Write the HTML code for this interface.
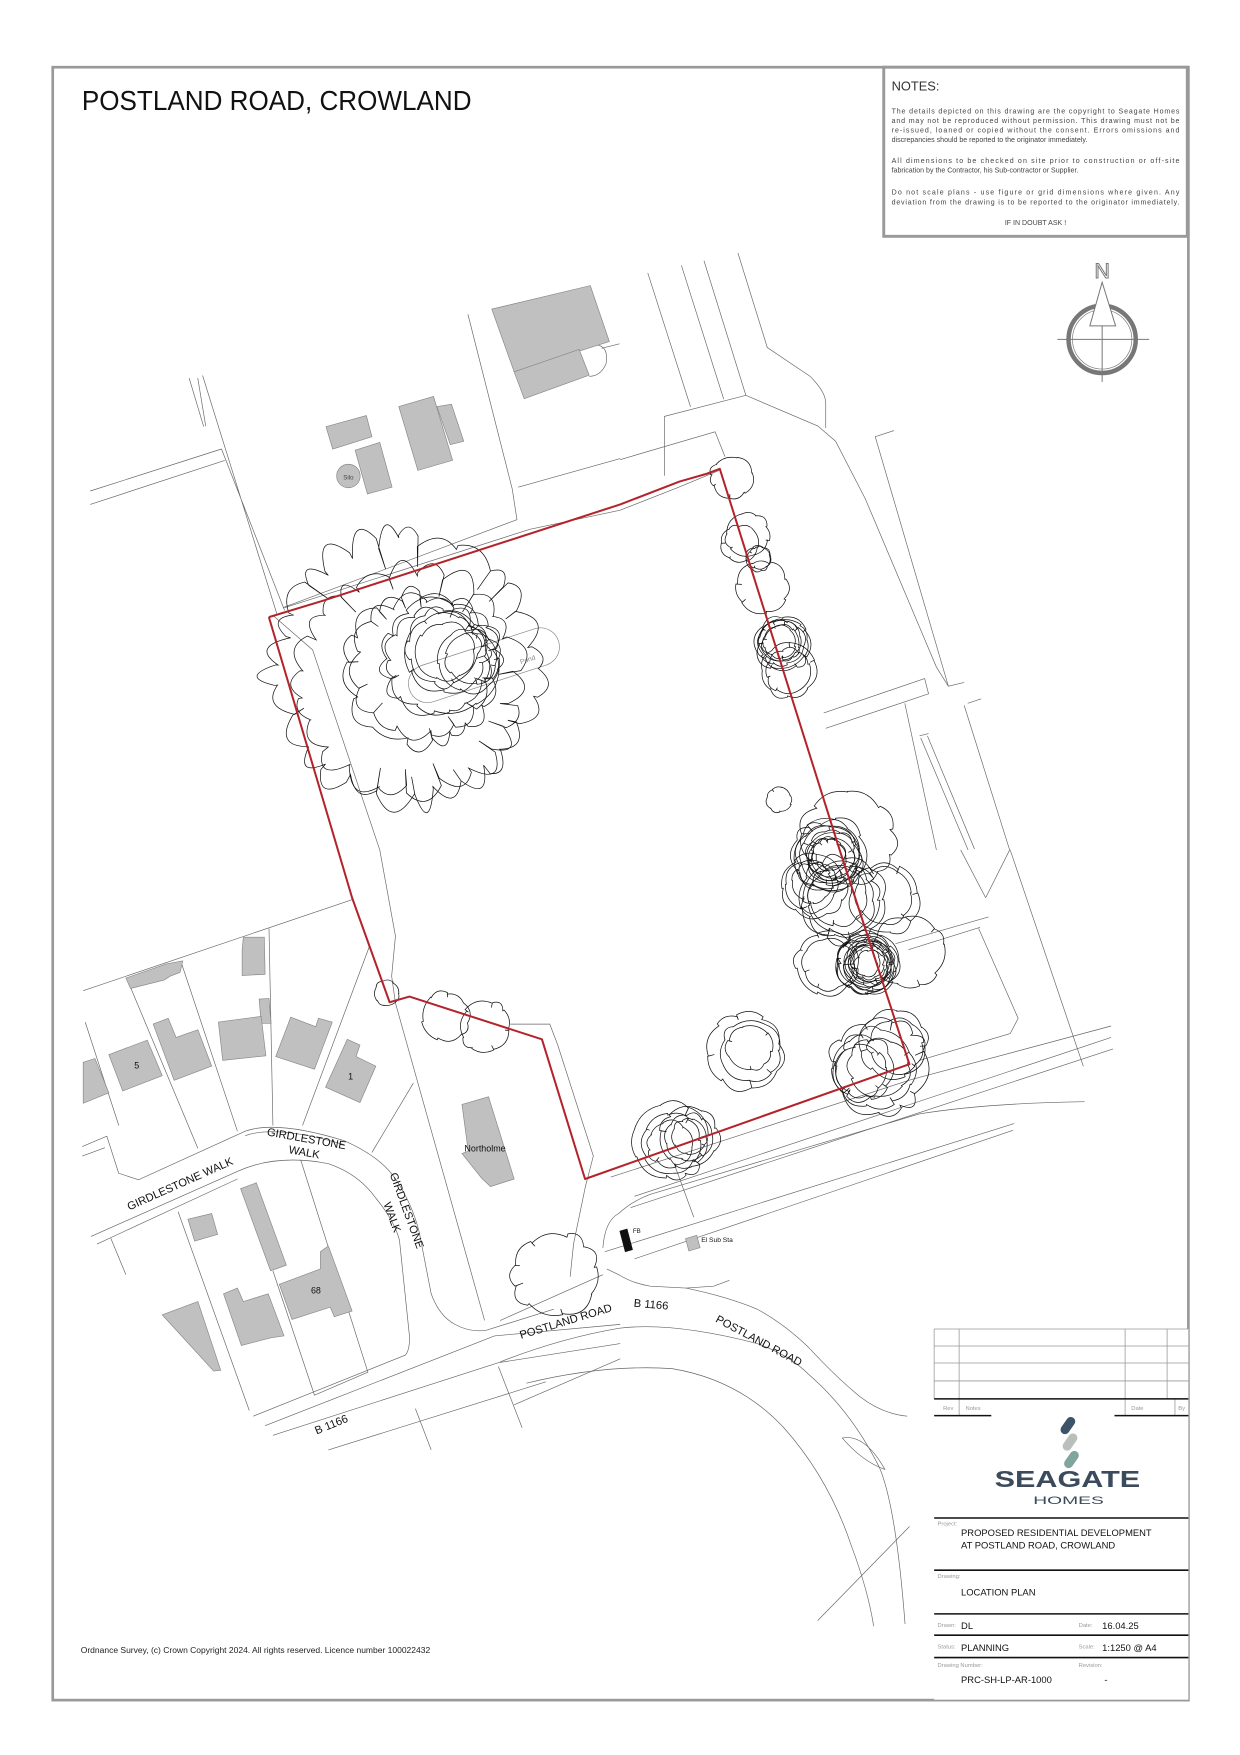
<!DOCTYPE html>
<html><head><meta charset="utf-8"><style>
html,body{margin:0;padding:0;background:#fff;}
svg{display:block;}
text{font-family:"Liberation Sans",sans-serif;}
</style></head><body>
<svg id="s" xmlns="http://www.w3.org/2000/svg" width="1240" height="1755" viewBox="0 0 1107 1567">
<rect x="0" y="0" width="1107" height="1567" fill="#fff"/>
<g id="map" fill="none" stroke="#666" stroke-width="0.6">
<path d="M168.8,337.6 L181.8,381 M176.5,337.6 L183.6,380.4 M180.8,335.3 L247,547.8 M197.7,400.9 L254,545"/>
<path d="M80.5,438.4 L197.7,400.9 M80.5,450.4 L200.6,411.1"/>
<path d="M417.7,280.6 L457.3,436.7 L461.5,464 L252.5,542.6 M462.6,435 L553.7,409.4 M537,311 L553,307"/>
<path d="M243.6,549.5 L279,580.2 L339,758.9 L353,835.8 L349.6,871.6 L353,895.6 L432.6,1179"/>
<path d="M254,542.6 L473,472.6 L553.7,455.5 L606,435 L642,420"/>
<path d="M516,312 Q545,300 541,325 Q536,336 526,336"/>
<path d="M578.3,243.7 L616.5,363.3 M608.3,236.9 L646.1,356.4 M628.5,232.8 L665.9,353 M658.8,225.9 L685,310.3 L723.1,335.9 Q737.2,350 737.2,359.9 L737.2,382.1"/>
<path d="M593.1,424.8 L593.1,371.8 L665.9,353 L730.2,380.4 L746,394 L772.5,445.3 L836,595.6 L846.7,612.7"/>
<path d="M553.6,410.4 L638.4,385.5 L647.2,407.7"/>
<path d="M798,384.5 L781.4,389.9 L846.7,612.7 L860.8,609.3 M860.8,629.8 L901.4,758.9 L880,801.6 M864,628 L876,624"/>
<path d="M735.4,636.6 L825.5,605.9 L829,619.5 L737.2,650.3 M807.8,628 L836,758.9 M822,658.8 L864.3,758.9 M828,657 L870,758 M821,657 L829,655"/>
<path d="M857.7,758.9 L880,801.6 M901.9,758.9 L967.2,952 M799.5,842.6 L882.5,818.7 M820.7,946.8 L901.9,922.9 L909,909.2 L873.7,828.9 M811,848 L875,828"/>
<path d="M74.2,884.6 L314.3,803.3 M240.1,829 L243.6,1004.9 M113,873.3 L176.6,1025.4 M162.4,861.4 L211.9,1010 M76,912.6 L106,1004.9 M330,844.3 L270,1004.9 M369,967 L332,1029"/>
<path d="M73.4,1023.7 L95.3,1014.5 L105.9,1047.6 L123.6,1053.4 L218.9,1010 Q247,1000 307.2,1018.5 Q340,1033 353.1,1052.7 Q368,1075 374.3,1100.5 L384.9,1155.2 Q392,1175 406.1,1182.5 Q420,1190 434.3,1187.7 L494.4,1168.9"/>
<path d="M218.9,1014 Q247,1004 307,1022"/>
<path d="M73.4,1032.2 L93.6,1024.7 M81.2,1104 L211.9,1045.9 Q247,1030 293.1,1039 Q320,1048 335.5,1069.8 Q352,1090 356.6,1107.4 L365.5,1192.8 Q366,1205 361.9,1209.9 L226,1264.5 M86.5,1110.8 L211.9,1052.7"/>
<path d="M158.9,1081.8 L222.5,1259.4 M268.4,1035.6 L328.4,1225.2 L280.7,1245.7 L243.6,1134.7 M98.9,1105.7 L112.3,1138.1"/>
<path d="M236.6,1273 L441.4,1192.8 L553.7,1182.5 M243.6,1281.6 L444.9,1216.7 L553.7,1199.6 M293.1,1294.6 L487.3,1233.8 M370.8,1257.7 L384.9,1294.6 M444.9,1220.1 L466.1,1274.8 M459,1254.3 L553.7,1213.3"/>
<path d="M455.5,914.4 L490.8,914.4 L497.9,933.1 L529.7,1032.2 L522.6,1059.5 L512,1110.8 L509,1140"/>
<path d="M545.3,1051 L813.6,963.9 L992,916.1 M566.5,1068.1 L992,926.3 M562.9,1078.3 L993.7,936.6"/>
<path d="M538.2,1114.2 Q540,1090 552.3,1083.5 Q565,1072 580.6,1066.4 L820.7,994.6 Q880,985 968.3,983.7"/>
<path d="M540,1117.6 L905.4,1003.2 M566.5,1124 L904.4,1009.2 M601.8,1039 L619.4,1086.9"/>
<path d="M446.4,1179.1 L538.2,1138.1 M541.7,1133 L552.3,1138.1 Q565,1146 580.6,1148.4 L612.4,1150.1 L637.1,1148.4 L651.2,1143.2"/>
<path d="M612.4,1150.1 Q650,1158 675.9,1168.9 Q700,1182 721.8,1203 Q745,1228 764.2,1244.1 Q785,1262 810,1264.5"/>
<path d="M446.4,1216 Q500,1195 552.3,1186 Q600,1180 675.9,1199.6 Q705,1210 721.8,1227 Q760,1260 785,1310 Q800,1345 808,1450"/>
<path d="M470,1235 Q540,1218 600,1222 Q660,1232 700,1275 Q740,1320 760,1380 Q775,1420 780,1452"/>
<path d="M752,1284 Q772,1280 790,1312 Q770,1305 752,1284 Z M812,1363 L730,1447"/>
<g transform="translate(432,594) rotate(-18)"><rect x="-70" y="-17" width="140" height="34" rx="17" stroke="#888"/></g>
</g>
<g fill="#c0c0c0" stroke="#888" stroke-width="0.6">
<polygon points="439,276 527,255 544,305 459,332"/>
<polygon points="459,332 517,312 526,335 468,356"/>
<polygon points="291,381 327,371 332,390 297,401"/>
<polygon points="317,402 339,395 350,435 328,441"/>
<polygon points="356,363 387,354 404,411 373,420"/>
<polygon points="390,363 403,361 414,394 402,397"/>
<circle cx="311" cy="425" r="10.5"/>
<polygon points="217.2,836.8 235.9,836.8 236.6,869.9 216.1,871 216.1,848.4"/>
<polygon points="231.3,892.1 240.1,891.5 241.9,913.7 233.1,913.7"/>
<polygon points="112.3,873.3 148.3,860.7 163.1,858 160.7,868.2 151.8,871.6 146.5,875.1 116.5,882.6"/>
<polygon points="97.1,941.7 131.4,928.7 144.8,960.5 109.5,974.1"/>
<polygon points="74.2,948.5 84.7,945.1 97.1,975.8 74.2,985.1"/>
<polygon points="136.7,914.4 150.1,909.2 157.1,926.3 176.6,919.5 188.9,951.9 155.4,964.6"/>
<polygon points="194.9,912.6 233.1,907.5 237.3,942.7 198.8,946.8"/>
<polygon points="246.1,943.4 259.5,908.2 281.8,916.7 284.3,909.2 296.6,912.6 280.7,954.7"/>
<polygon points="290.6,970.7 310,928 321.3,933.1 317.8,943.4 335.5,951.9 321.3,984.4"/>
<polygon points="412.4,986.1 436.1,979.3 459,1052.7 437.9,1059.5 430,1052 412.4,1030 418,1028"/>
<polygon points="214.7,1061.3 228.8,1056.1 255.6,1129.6 241.5,1134.7"/>
<polygon points="167.7,1088.6 188.9,1083.5 194.2,1102.2 173.7,1108.1"/>
<polygon points="249.3,1146.7 286,1133 286,1117.6 293.1,1112.5 314.3,1170.6 298.4,1175.7 294.8,1167.2 260.6,1178.1"/>
<polygon points="199.5,1155.2 211.9,1150.1 217.2,1162.1 239.4,1155.2 253.5,1192.8 241.9,1194.5 215.4,1201.3"/>
<polygon points="144.8,1174 176.6,1162.1 197,1223.5 190.7,1224.2"/>
<polygon points="612,1106 622,1103 625,1114 615,1117"/>
</g>
<polygon points="553,1099 560,1097 565,1116 558,1118" fill="#111"/>
<g id="trees" fill="none" stroke="#111" stroke-width="0.65"></g>
<polyline points="240,551 289.5,536 553.7,450.4 606.6,430 631,423 642.6,418.6 749.6,758.9 811.9,950.2 522.3,1052.7 483.8,928 365.5,889.8 347.8,894.9 314.3,801.6 240,551" fill="none" stroke="#b3232b" stroke-width="1.8" stroke-linejoin="round"/>
<g fill="#111" font-size="9">
<text x="311" y="428" font-size="5.5" text-anchor="middle" fill="#444">Silo</text>
<text x="465" y="593" font-size="6" fill="#888" transform="rotate(-18 465 593)">Pond</text>
<text x="122" y="954" text-anchor="middle" font-size="8">5</text>
<text x="313" y="964" text-anchor="middle" font-size="8">1</text>
<text x="282" y="1155" text-anchor="middle" font-size="8">68</text>
<text x="433" y="1028" text-anchor="middle" font-size="8">Northolme</text>
<text x="162" y="1060" text-anchor="middle" font-size="10" transform="rotate(-24 162 1060)">GIRDLESTONE WALK</text>
<text x="273" y="1020" text-anchor="middle" font-size="10" transform="rotate(10 273 1020)">GIRDLESTONE</text>
<text x="271" y="1032" text-anchor="middle" font-size="10" transform="rotate(10 271 1032)">WALK</text>
<text x="360" y="1082" text-anchor="middle" font-size="10" transform="rotate(70 360 1082)">GIRDLESTONE</text>
<text x="347" y="1088" text-anchor="middle" font-size="10" transform="rotate(70 347 1088)">WALK</text>
<text x="297" y="1275" text-anchor="middle" font-size="10" transform="rotate(-22 297 1275)">B 1166</text>
<text x="506" y="1183" text-anchor="middle" font-size="10" transform="rotate(-17 506 1183)">POSTLAND ROAD</text>
<text x="581" y="1168" text-anchor="middle" font-size="10" transform="rotate(5 581 1168)">B 1166</text>
<text x="676" y="1200" text-anchor="middle" font-size="10" transform="rotate(28 676 1200)">POSTLAND ROAD</text>
<text x="626" y="1109" font-size="6">El Sub Sta</text>
<text x="565" y="1101" font-size="5.5">FB</text>
</g>
<g stroke="#777" fill="none">
<circle cx="984" cy="303" r="30" stroke-width="4"/>
<circle cx="984" cy="303" r="26.5" stroke-width="0.6"/>
<path d="M944,303 L1026,303 M984,291 L984,341" stroke-width="0.9"/>
<polygon points="984,252 973,291 996,291" stroke-width="0.9" fill="#fff"/>
</g>
<text x="984" y="248" font-family="Liberation Serif,serif" font-size="19" text-anchor="middle" fill="#fff" stroke="#777" stroke-width="0.9">N</text>
<rect x="47" y="60" width="1014" height="1458" fill="none" stroke="#999" stroke-width="2.4"/>
<text x="73" y="98.2" font-size="25" fill="#111" textLength="348" lengthAdjust="spacingAndGlyphs">POSTLAND ROAD, CROWLAND</text>
<rect x="789" y="60" width="271" height="151" fill="#fff" stroke="#999" stroke-width="2.6"/>
<text x="796" y="81" font-size="11.5" fill="#333">NOTES:</text>
<g font-size="6.3" fill="#444">
<text x="796" y="101.5" textLength="257" lengthAdjust="spacing">The details depicted on this drawing are the copyright to Seagate Homes</text>
<text x="796" y="109.8" textLength="257" lengthAdjust="spacing">and may not be reproduced without permission. This drawing must not be</text>
<text x="796" y="118.1" textLength="257" lengthAdjust="spacing">re-issued, loaned or copied without the consent. Errors omissions and</text>
<text x="796" y="126.6">discrepancies should be reported to the originator immediately.</text>
<text x="796" y="145.5" textLength="257" lengthAdjust="spacing">All dimensions to be checked on site prior to construction or off-site</text>
<text x="796" y="154.1">fabrication by the Contractor, his Sub-contractor or Supplier.</text>
<text x="796" y="173.7" textLength="257" lengthAdjust="spacing">Do not scale plans - use figure or grid dimensions where given. Any</text>
<text x="796" y="182.4" textLength="257" lengthAdjust="spacing">deviation from the drawing is to be reported to the originator immediately.</text>
<text x="924.5" y="201.1" text-anchor="middle">IF IN DOUBT ASK !</text>
</g>
<rect x="834" y="1186.6" width="227" height="331" fill="#fff"/>
<g stroke="#999" stroke-width="0.7" fill="none">
<path d="M834,1186.6 L1061,1186.6 M834,1201.8 L1061,1201.8 M834,1217 L1061,1217 M834,1233 L1061,1233 M834,1186.6 L834,1249 M856.3,1186.6 L856.3,1264 M1004.5,1186.6 L1004.5,1264 M1042,1186.6 L1042,1249 M1049,1249 L1049,1264"/>
</g>
<g stroke="#111" stroke-width="1.4">
<path d="M834,1249 L1061,1249 M834,1264 L885,1264 M995,1264 L1061,1264 M834,1355.4 L1061,1355.4 M834,1402 L1061,1402 M834,1441 L1061,1441 M834,1460 L1061,1460 M834,1480 L1061,1480"/>
</g>
<g font-size="5.2" fill="#999">
<text x="842" y="1259">Rev</text><text x="862" y="1259">Notes</text><text x="1010" y="1259">Date</text><text x="1052" y="1259">By</text>
<text x="837" y="1362">Project:</text>
<text x="837" y="1409">Drawing:</text>
<text x="837" y="1452.5">Drawn:</text><text x="963" y="1452.5">Date:</text>
<text x="837" y="1472">Status:</text><text x="963" y="1472">Scale:</text>
<text x="837" y="1488.5">Drawing Number:</text><text x="963" y="1488.5">Revision:</text>
</g>
<g font-size="8.4" fill="#111">
<text x="858" y="1371.5">PROPOSED RESIDENTIAL DEVELOPMENT</text>
<text x="858" y="1382.5">AT POSTLAND ROAD, CROWLAND</text>
<text x="858" y="1424.5">LOCATION PLAN</text>
<text x="858" y="1454.5">DL</text><text x="984" y="1454.5">16.04.25</text>
<text x="858" y="1474">PLANNING</text><text x="984" y="1474">1:1250 @ A4</text>
<text x="858" y="1502.5">PRC-SH-LP-AR-1000</text><text x="986" y="1502.5">-</text>
</g>
<g transform="translate(955,1288) rotate(-55)">
<rect x="3" y="-14" width="17" height="8" rx="4" fill="#3d5468"/>
<rect x="-8" y="-4" width="17" height="8" rx="4" fill="#bcbebb"/>
<rect x="-20" y="6" width="17" height="8" rx="4" fill="#7fa59d"/>
</g>
<text x="953" y="1327.7" font-family="Liberation Serif,serif" font-weight="bold" font-size="21" fill="#3c4b5c" text-anchor="middle" textLength="130" lengthAdjust="spacingAndGlyphs">SEAGATE</text>
<text x="954" y="1343" font-size="10" fill="#3c4b5c" text-anchor="middle" textLength="63" lengthAdjust="spacingAndGlyphs">HOMES</text>
<text x="72" y="1476" font-size="7.6" fill="#222">Ordnance Survey, (c) Crown Copyright 2024. All rights reserved. Licence number 100022432</text>
</svg>
<script>
(function(){
var g=document.getElementById('trees');var NS='http://www.w3.org/2000/svg';
var seed=7;function R(){seed=(seed*9301+49297)%233280;return seed/233280;}
function ring(cx,cy,r){var n=Math.max(7,Math.round(r/4.5));var off=R()*6.283;var d='';var step=6.283/n;
var a=off;var first=true;var pts=[];
for(var i=0;i<n;i++){var w=step*(0.6+R()*0.8);pts.push(w);}
var tot=pts.reduce(function(s,v){return s+v;},0);
for(var i=0;i<n;i++){var w=pts[i]*6.283/tot;var a0=a,a1=a+w,am=(a0+a1)/2;a=a1;
var r0=r*(0.86+R()*0.1),rc=r*(1.02+R()*0.2),r1=r*(0.86+R()*0.1);
var x0=cx+r0*Math.cos(a0),y0=cy+r0*Math.sin(a0),xc=cx+rc*Math.cos(am),yc=cy+rc*Math.sin(am),x1=cx+r1*Math.cos(a1),y1=cy+r1*Math.sin(a1);
d+=(first?'M':'L')+x0.toFixed(1)+','+y0.toFixed(1)+' Q'+xc.toFixed(1)+','+yc.toFixed(1)+' '+x1.toFixed(1)+','+y1.toFixed(1)+' ';first=false;
if(R()<0.3){var an=a1+0.02;var rn=r*(0.72+R()*0.1);d+='L'+(cx+rn*Math.cos(an)).toFixed(1)+','+(cy+rn*Math.sin(an)).toFixed(1)+' ';}}
var p=document.createElementNS(NS,'path');p.setAttribute('d',d+'Z');g.appendChild(p);}
function tree(cx,cy,r,k,sp){k=k||1;sp=sp||0.18;for(var j=0;j<k;j++){var rr=r*(1-j*sp);if(rr<4)break;ring(cx+(R()-0.5)*r*0.15,cy+(R()-0.5)*r*0.15,rr);}}
tree(364,595,125,1);tree(373,606,105,1);tree(380,598,72,2,0.1);tree(393,588,55,2,0.12);tree(396,580,40,3,0.15);
tree(420,590,30,2);
tree(651.8,424.8,20);tree(666.6,477.7,21);tree(660,485,18);tree(677.2,498.2,12,2,0.1);tree(681.4,523.9,25);
tree(697.7,573.4,26,6,0.08);tree(705.4,599,26,2);tree(696.6,713.5,12);
tree(759,745,44);tree(741,765,35,9,0.07);tree(725,790,30,3);tree(750,800,40,4,0.1);tree(790,800,33,2);
tree(810,849,34);tree(775,860,30,12,0.05);tree(740,860,30,2);
tree(783,953,45,3,0.18);tree(800,935,32,2);tree(770,955,30,2);
tree(667.1,936.5,36,3,0.2);tree(598.2,1020.3,36,3,0.2);tree(615,1015,28,3,0.2);
tree(344.3,887,12);tree(397,909,23);tree(430.8,916,24);tree(497.9,1136.4,40);
})();
</script>
</body></html>
